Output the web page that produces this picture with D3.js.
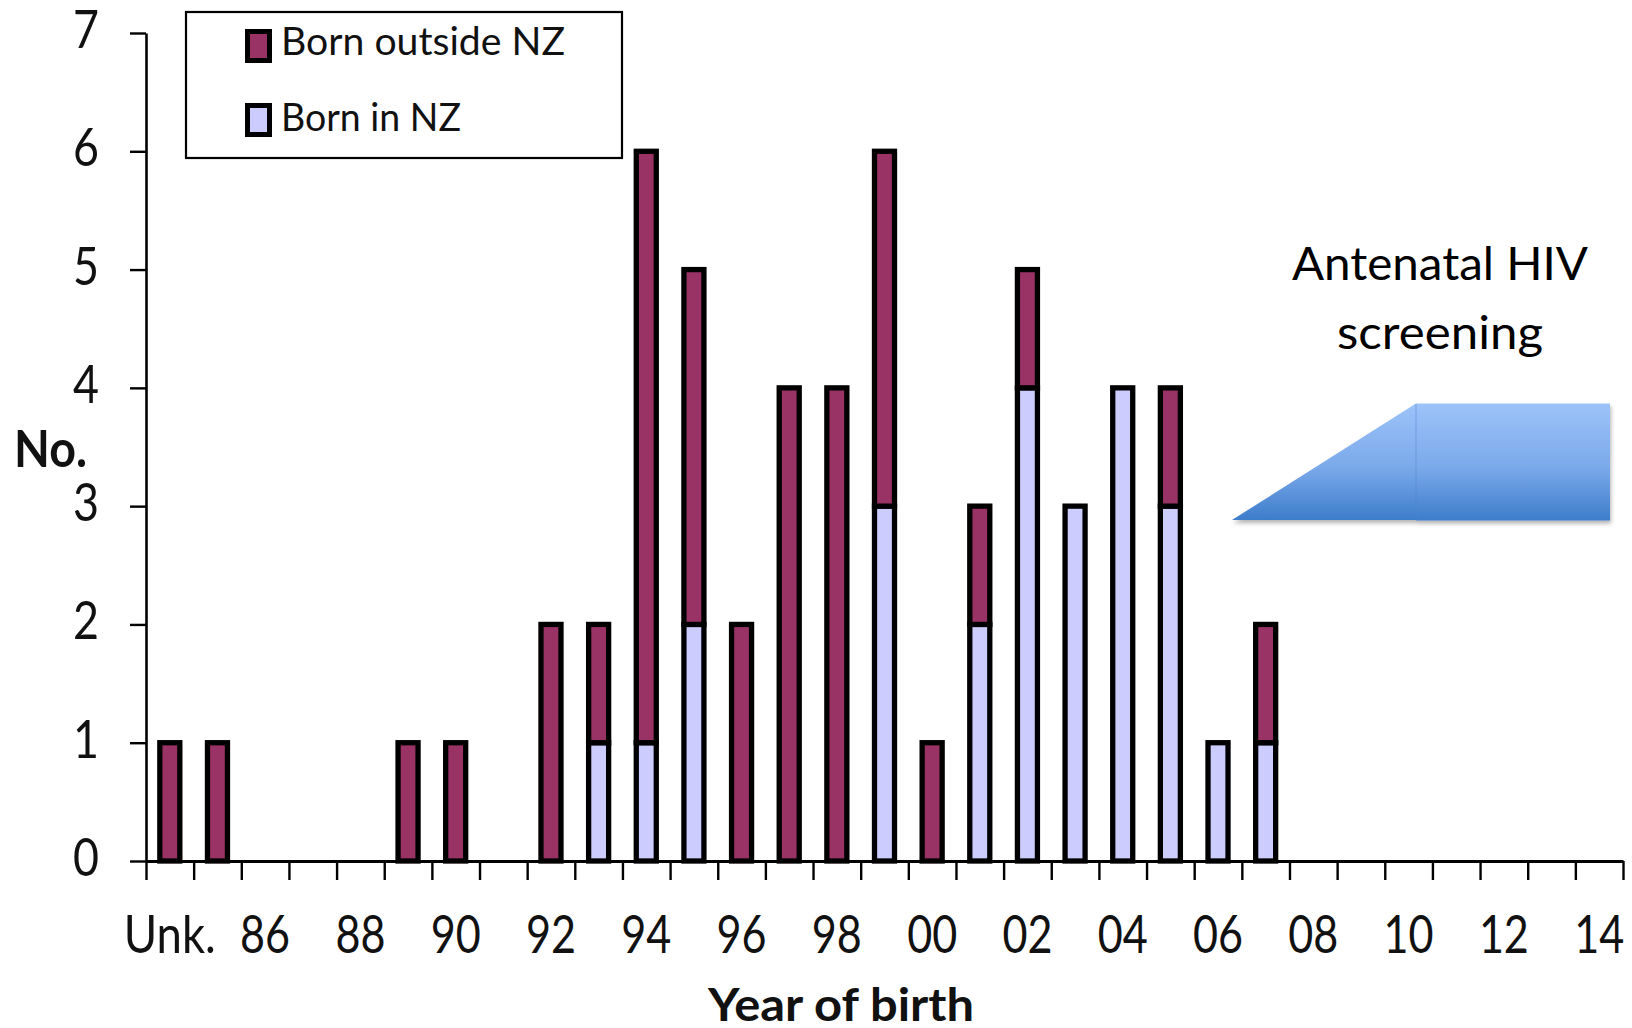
<!DOCTYPE html>
<html>
<head>
<meta charset="utf-8">
<script src="https://cdn.jsdelivr.net/npm/d3@7/dist/d3.min.js"></script>
<style>
  html, body { margin: 0; padding: 0; background: #fff; }
  svg { display: block; }
  text { font-family: Lato, "Open Sans", sans-serif; fill: #111; }
</style>
</head>
<body>
<svg id="chart" width="1632" height="1028"></svg>
<script>
// Year-of-birth categories (Unk. first, then 1985–2014)
const categories = ["Unk.","85","86","87","88","89","90","91","92","93","94","95","96","97","98","99",
                    "00","01","02","03","04","05","06","07","08","09","10","11","12","13","14"];
// Cases born in New Zealand (lower segment)
const bornInNZ =      [0,0,0,0,0,0,0,0,0,1,1,2,0,0,0,3,0,2,4,3,4,3,1,1,0,0,0,0,0,0,0];
// Cases born outside New Zealand (upper segment)
const bornOutsideNZ = [1,1,0,0,0,1,1,0,2,1,5,3,2,4,4,3,1,1,1,0,0,1,0,1,0,0,0,0,0,0,0];
// Categories that carry a visible label on the x axis
const xTickLabels = ["Unk.","86","88","90","92","94","96","98","00","02","04","06","08","10","12","14"];
const yTicks = [0,1,2,3,4,5,6,7];

const seriesKeys = ["inNZ", "outside"];
const seriesNames = { outside: "Born outside NZ", inNZ: "Born in NZ" };
const seriesColors = { outside: "#993366", inNZ: "#CCCCFF" };

const svg = d3.select("#chart");

const plot = { left: 146, right: 1623, top: 33, bottom: 861 };

const x = d3.scaleBand()
  .domain(categories)
  .range([plot.left, plot.right])
  .paddingInner(0.58)
  .paddingOuter(0.29);

const y = d3.scaleLinear().domain([0, 7]).range([plot.bottom, plot.top]);

// Stack the two series
const rows = categories.map((c, i) => ({ cat: c, inNZ: bornInNZ[i], outside: bornOutsideNZ[i] }));
const stacked = d3.stack().keys(seriesKeys)(rows);

// Bars
const barG = svg.append("g").attr("class", "bars");
stacked.forEach(layer => {
  barG.selectAll(null)
    .data(layer.filter(d => d[1] - d[0] > 0))
    .join("rect")
    .attr("x", d => x(d.data.cat))
    .attr("width", x.bandwidth())
    .attr("y", d => y(d[1]))
    .attr("height", d => y(d[0]) - y(d[1]))
    .attr("fill", seriesColors[layer.key])
    .attr("stroke", "#000")
    .attr("stroke-width", 5.3);
});

// Y axis
const yAxis = svg.append("g")
  .attr("transform", `translate(${plot.left},0)`)
  .call(d3.axisLeft(y).tickValues(yTicks).tickFormat(d3.format("d")).tickSize(16).tickSizeOuter(0));
yAxis.select(".domain").attr("stroke", "#000").attr("stroke-width", 2.6);
yAxis.selectAll(".tick line").attr("stroke", "#000").attr("stroke-width", 2.4);
yAxis.selectAll(".tick text")
  .attr("x", -47)
  .attr("dy", "0.28em")
  .attr("font-size", 52)
  .attr("textLength", 26)
  .attr("lengthAdjust", "spacingAndGlyphs")
  .style("font-family", "Lato, sans-serif")
  .attr("fill", "#111");

// X axis: tick marks sit on category boundaries
const edge = d3.scaleLinear().domain([0, categories.length]).range([plot.left, plot.right]);
const xAxis = svg.append("g")
  .attr("transform", `translate(0,${plot.bottom})`)
  .call(d3.axisBottom(edge).tickValues(d3.range(categories.length + 1)).tickFormat("").tickSize(19).tickSizeOuter(0));
xAxis.select(".domain").attr("stroke", "#000").attr("stroke-width", 3);
xAxis.selectAll(".tick line").attr("stroke", "#000").attr("stroke-width", 2.4);

// X labels at category centres
svg.append("g").selectAll("text")
  .data(xTickLabels)
  .join("text")
  .attr("x", d => x(d) + x.bandwidth() / 2)
  .attr("y", 953)
  .attr("text-anchor", "middle")
  .attr("font-size", 52)
  .attr("textLength", d => d === "Unk." ? 92 : 50)
  .attr("lengthAdjust", "spacingAndGlyphs")
  .text(d => d);

// Axis titles
svg.append("text")
  .attr("x", 14).attr("y", 467)
  .attr("font-size", 51).attr("font-weight", 700)
  .attr("textLength", 73).attr("lengthAdjust", "spacingAndGlyphs")
  .text("No.");

svg.append("text")
  .attr("x", 841).attr("y", 1021)
  .attr("text-anchor", "middle")
  .attr("font-size", 46).attr("font-weight", 700)
  .attr("textLength", 266).attr("lengthAdjust", "spacingAndGlyphs")
  .text("Year of birth");

// Legend
const legend = svg.append("g");
legend.append("rect")
  .attr("x", 186).attr("y", 12).attr("width", 436).attr("height", 146)
  .attr("fill", "#fff").attr("stroke", "#000").attr("stroke-width", 2.2);
const legendItems = [
  { key: "outside", sy: 31.5, ty: 55, w: 284 },
  { key: "inNZ", sy: 105.5, ty: 131, w: 180 }
];
legendItems.forEach(it => {
  legend.append("rect")
    .attr("x", 247.5).attr("y", it.sy).attr("width", 22).attr("height", 29)
    .attr("fill", seriesColors[it.key]).attr("stroke", "#000").attr("stroke-width", 5);
  legend.append("text")
    .attr("x", 281).attr("y", it.ty)
    .attr("font-size", 39)
    .attr("textLength", it.w).attr("lengthAdjust", "spacingAndGlyphs")
    .text(seriesNames[it.key]);
});

// Annotation: antenatal screening wedge
const defs = svg.append("defs");
const grad = defs.append("linearGradient").attr("id", "wedgeFill")
  .attr("x1", 0).attr("y1", 0).attr("x2", 0).attr("y2", 1);
grad.append("stop").attr("offset", "0%").attr("stop-color", "#9DC3F9");
grad.append("stop").attr("offset", "55%").attr("stop-color", "#7AA9EA");
grad.append("stop").attr("offset", "100%").attr("stop-color", "#3D7DCB");
const shadow = defs.append("filter").attr("id", "wedgeShadow")
  .attr("x", "-5%").attr("y", "-5%").attr("width", "115%").attr("height", "125%");
shadow.append("feDropShadow").attr("dx", 1).attr("dy", 3).attr("stdDeviation", 2)
  .attr("flood-color", "#000").attr("flood-opacity", 0.3);

const wedge = svg.append("g").attr("filter", "url(#wedgeShadow)");
wedge.append("path")
  .attr("d", "M1232,520 L1416,403.5 L1416,520 Z")
  .attr("fill", "url(#wedgeFill)");
wedge.append("rect")
  .attr("x", 1416).attr("y", 403.5).attr("width", 194).attr("height", 117)
  .attr("fill", "url(#wedgeFill)");
wedge.append("line")
  .attr("x1", 1416).attr("x2", 1416).attr("y1", 404).attr("y2", 520)
  .attr("stroke", "#4F86CF").attr("stroke-opacity", 0.5).attr("stroke-width", 1);

const note = svg.append("text")
  .attr("text-anchor", "middle")
  .attr("font-size", 46)
  .style("fill", "#000");
note.append("tspan").attr("x", 1440).attr("y", 280).attr("textLength", 296).attr("lengthAdjust", "spacingAndGlyphs").text("Antenatal HIV");
note.append("tspan").attr("x", 1440).attr("y", 349).attr("textLength", 206).attr("lengthAdjust", "spacingAndGlyphs").text("screening");
</script>
</body>
</html>
